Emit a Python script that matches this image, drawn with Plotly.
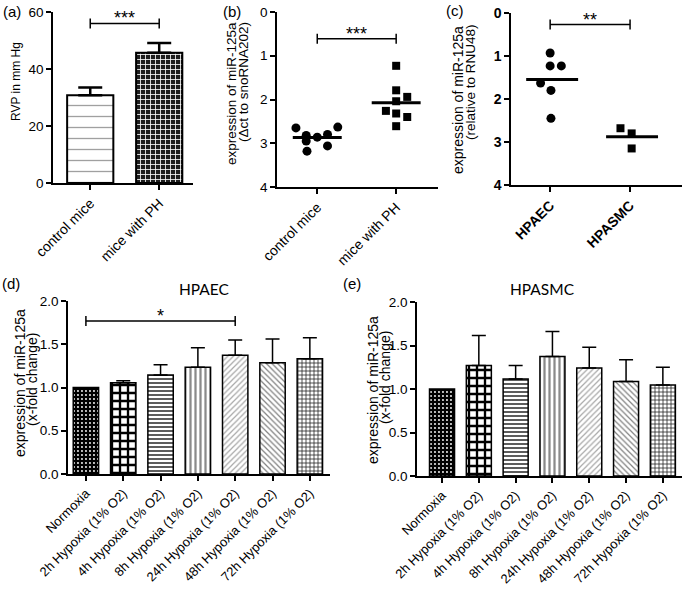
import numpy as np
import plotly.graph_objects as go

W, H = 682, 593
FONT = "Liberation Sans, Arial, sans-serif"
TFONT = "Lato, Open Sans, sans-serif"

# ---------------- data ----------------
# (a) right ventricular pressure
rvp_groups = ["control mice", "mice with PH"]
rvp_mean = [30.8, 45.7]
rvp_sem = [2.7, 3.4]

# (b) delta-ct of miR-125a in mice
mice_groups = ["control mice", "mice with PH"]
ctrl_dct = [2.65, 2.82, 2.95, 2.86, 2.80, 2.63, 3.06, 3.18]
ctrl_jit = [-0.27, -0.14, -0.14, 0.0, 0.13, 0.26, 0.13, -0.13]
ph_dct = [1.23, 1.79, 1.94, 2.04, 2.26, 2.32, 2.40, 2.61]
ph_jit = [0.0, 0.0, 0.14, 0.0, -0.13, 0.0, 0.14, 0.0]

# (c) expression relative to RNU48
cell_groups = ["HPAEC", "HPASMC"]
hpaec_rel = [0.93, 1.23, 1.23, 1.63, 1.80, 2.45]
hpaec_jit = [0.0, 0.0, 0.14, -0.12, 0.01, 0.01]
hpasmc_rel = [2.68, 2.80, 3.15]
hpasmc_jit = [-0.12, 0.02, 0.02]

# (d)/(e) hypoxia time course
hyp_labels = ["Normoxia", "2h Hypoxia (1% O2)", "4h Hypoxia (1% O2)", "8h Hypoxia (1% O2)",
              "24h Hypoxia (1% O2)", "48h Hypoxia (1% O2)", "72h Hypoxia (1% O2)"]
hpaec_fc = [1.00, 1.055, 1.145, 1.233, 1.372, 1.287, 1.333]
hpaec_err = [0.0, 0.024, 0.119, 0.227, 0.177, 0.274, 0.243]
hpasmc_fc = [1.00, 1.27, 1.115, 1.375, 1.24, 1.085, 1.045]
hpasmc_err = [0.0, 0.345, 0.155, 0.285, 0.24, 0.25, 0.205]

# significance brackets: (axis, from, to, level, label)
sig_marks = [("a", 0, 1, 56.0, "***"), ("b", 0, 1, 0.61, "***"),
             ("c", 0, 1, 0.27, "**"), ("d", 0, 4, 1.77, "*")]

# ---------------- styles ----------------
# one pattern per bar: (shape, fgcolor, bgcolor, size, solidity)
rvp_patterns = [("-", "#a0a0a0", "white", 11, 0.12),
                ("+", "white", "#1e1e1e", 5, 0.3)]
hyp_patterns = [(".", "white", "black", 4, 0.18),
                ("+", "black", "white", 8, 0.5),
                ("-", "#333333", "white", 4, 0.4),
                ("|", "#8a8a8a", "white", 5, 0.45),
                ("/", "#a8a8a8", "white", 4, 0.3),
                ("\\", "#808080", "white", 4, 0.3),
                ("+", "#222222", "white", 4, 0.35)]


def xd(a, b):
    return [a / W, min(b / W, 1.0)]


def yd(top, bottom):
    return [1 - bottom / H, 1 - top / H]


def axis(**kw):
    d = dict(showline=True, linecolor="black", linewidth=1.5, ticks="outside", ticklen=5,
             tickwidth=1.5, tickcolor="black", showgrid=False, zeroline=False, automargin=False,
             tickfont=dict(family=FONT, size=13.5, color="black"))
    d.update(kw)
    return d


fig = go.Figure()


def add_bars(xs, vals, errs, pats, xa_, ya_, lw, ew, ecap, bw):
    for x, v, e, (shp, fg, bg, sz, so) in zip(xs, vals, errs, pats):
        fig.add_trace(go.Bar(
            x=[x], y=[v], width=bw, xaxis=xa_, yaxis=ya_,
            marker=dict(color=bg, line=dict(color="black", width=lw),
                        pattern=dict(shape=shp, fgcolor=fg, bgcolor=bg, size=sz,
                                     solidity=so, fillmode="replace")),
            error_y=dict(type="data", array=[e], arrayminus=[0], symmetric=False,
                         color="black", thickness=ew, width=ecap, visible=e > 0),
        ))


# (a) bars
xa = list(range(len(rvp_groups)))
add_bars(xa, rvp_mean, rvp_sem, rvp_patterns, "x", "y", 2, 2.5, 12, 0.67)

# (b) scatter
for i, (vals, jit, sym, sz) in enumerate([(ctrl_dct, ctrl_jit, "circle", 9),
                                          (ph_dct, ph_jit, "square", 8)]):
    fig.add_trace(go.Scatter(x=[i + j for j in jit], y=vals, mode="markers", xaxis="x2", yaxis="y2",
                             marker=dict(symbol=sym, size=sz, color="black")))
    m = float(np.mean(vals))
    fig.add_trace(go.Scatter(x=[i - 0.31, i + 0.31], y=[m, m], mode="lines", xaxis="x2", yaxis="y2",
                             line=dict(color="black", width=3)))

# (c) scatter
for i, (vals, jit, sym, sz) in enumerate([(hpaec_rel, hpaec_jit, "circle", 9),
                                          (hpasmc_rel, hpasmc_jit, "square", 8)]):
    fig.add_trace(go.Scatter(x=[i + j for j in jit], y=vals, mode="markers", xaxis="x3", yaxis="y3",
                             marker=dict(symbol=sym, size=sz, color="black")))
    m = float(np.mean(vals))
    fig.add_trace(go.Scatter(x=[i - 0.3, i + 0.35], y=[m, m], mode="lines", xaxis="x3", yaxis="y3",
                             line=dict(color="black", width=3)))

# (d) and (e) bars
xh = list(range(len(hyp_labels)))
add_bars(xh, hpaec_fc, hpaec_err, hyp_patterns, "x4", "y4", 1.5, 1.5, 7, 0.68)
add_bars(xh, hpasmc_fc, hpasmc_err, hyp_patterns, "x5", "y5", 1.5, 1.5, 7, 0.68)

# significance brackets
ax_ref = {"a": ("x", "y"), "b": ("x2", "y2"), "c": ("x3", "y3"), "d": ("x4", "y4")}
shapes, annotations = [], []
for key, x0, x1, yv, lab in sig_marks:
    xr, yr = ax_ref[key]
    shapes.append(dict(type="line", xref=xr, yref=yr, x0=x0, x1=x1, y0=yv, y1=yv,
                       line=dict(color="black", width=1.5)))
    for xe in (x0, x1):
        shapes.append(dict(type="line", xref=xr, yref=yr, x0=xe, x1=xe, ysizemode="pixel",
                           yanchor=yv, y0=-5, y1=5, line=dict(color="black", width=1.5)))
    annotations.append(dict(xref=xr, yref=yr, x=(x0 + x1) / 2, y=yv, text=lab, showarrow=False,
                            yanchor="middle", yshift=5, font=dict(family=FONT, size=18, color="black")))


def ptext(txt, px, py, size, angle=0, family=FONT, bold=False):
    t = f"<b>{txt}</b>" if bold else txt
    annotations.append(dict(xref="paper", yref="paper", x=px / W, y=1 - py / H, text=t,
                            showarrow=False, textangle=angle, xanchor="center", yanchor="middle",
                            font=dict(family=family, size=size, color="black")))


# panel labels
ptext("(a)", 12, 12, 15)
ptext("(b)", 232, 12, 15)
ptext("(c)", 455, 10, 15)
ptext("(d)", 11, 283, 15)
ptext("(e)", 352, 283, 15)
# y-axis titles
ptext("RVP in mm Hg", 16, 82, 12, -90)
ptext("expression of miR-125a", 231, 93, 13.5, -90)
ptext("(\u0394ct to snoRNA202)", 243, 82, 13.5, -90)
ptext("expression of miR-125a", 458, 100, 14, -90)
ptext("(relative to RNU48)", 470, 82, 13.5, -90)
ptext("expression of miR-125a", 20, 383, 14, -90)
ptext("(x-fold change)", 32, 380, 14, -90)
ptext("expression of miR-125a", 373, 390, 14, -90)
ptext("(x-fold change)", 385, 378, 14, -90)
# panel titles
ptext("HPAEC", 204, 289, 15.5, family=TFONT)
ptext("HPASMC", 542, 289, 15.5, family=TFONT)

XL = dict(family=FONT, size=14, color="black")
XH = dict(family=FONT, size=13, color="black")
fig.update_layout(
    width=W, height=H, margin=dict(l=0, r=0, t=0, b=0, autoexpand=False),
    plot_bgcolor="white", paper_bgcolor="white", showlegend=False, barmode="overlay",
    shapes=shapes, annotations=annotations,
    # (a)
    xaxis=axis(domain=xd(53, 193), anchor="y", range=[-0.54, 1.49], tickvals=xa,
               ticktext=rvp_groups, tickangle=-45, tickfont=XL),
    yaxis=axis(domain=yd(12, 183), anchor="x", range=[0, 60], tickvals=[0, 20, 40, 60]),
    # (b)
    xaxis2=axis(domain=xd(277, 438), anchor="y2", range=[-0.51, 1.53], tickvals=[0, 1],
                ticktext=mice_groups, tickangle=-45, tickfont=XL),
    yaxis2=axis(domain=yd(12, 187), anchor="x2", range=[4, 0], tickvals=[0, 1, 2, 3, 4]),
    # (c)
    xaxis3=axis(domain=xd(511, 682), anchor="y3", range=[-0.49, 1.65], tickvals=[0, 1],
                ticktext=[f"<b>{c}</b>" for c in cell_groups], tickangle=-45, tickfont=XL),
    yaxis3=axis(domain=yd(13, 185), anchor="x3", range=[4, 0], tickvals=[0, 1, 2, 3, 4],
                ticktext=[f"<b>{v}</b>" for v in range(5)], tickfont=XL),
    # (d)
    xaxis4=axis(domain=xd(68, 330), anchor="y4", range=[-0.48, 6.54], tickvals=xh,
                ticktext=hyp_labels, tickangle=-45, tickfont=XH),
    yaxis4=axis(domain=yd(301, 474), anchor="x4", range=[0, 2], tickvals=[0, 0.5, 1, 1.5, 2],
                tickformat=".1f"),
    # (e)
    xaxis5=axis(domain=xd(417, 682), anchor="y5", range=[-0.68, 6.52], tickvals=xh,
                ticktext=hyp_labels, tickangle=-45, tickfont=XH),
    yaxis5=axis(domain=yd(302, 476), anchor="x5", range=[0, 2], tickvals=[0, 0.5, 1, 1.5, 2],
                tickformat=".1f"),
)

fig.write_html("out.html", config={"displayModeBar": False},
               post_script="document.body.style.margin='0';document.body.style.overflow='hidden';")
